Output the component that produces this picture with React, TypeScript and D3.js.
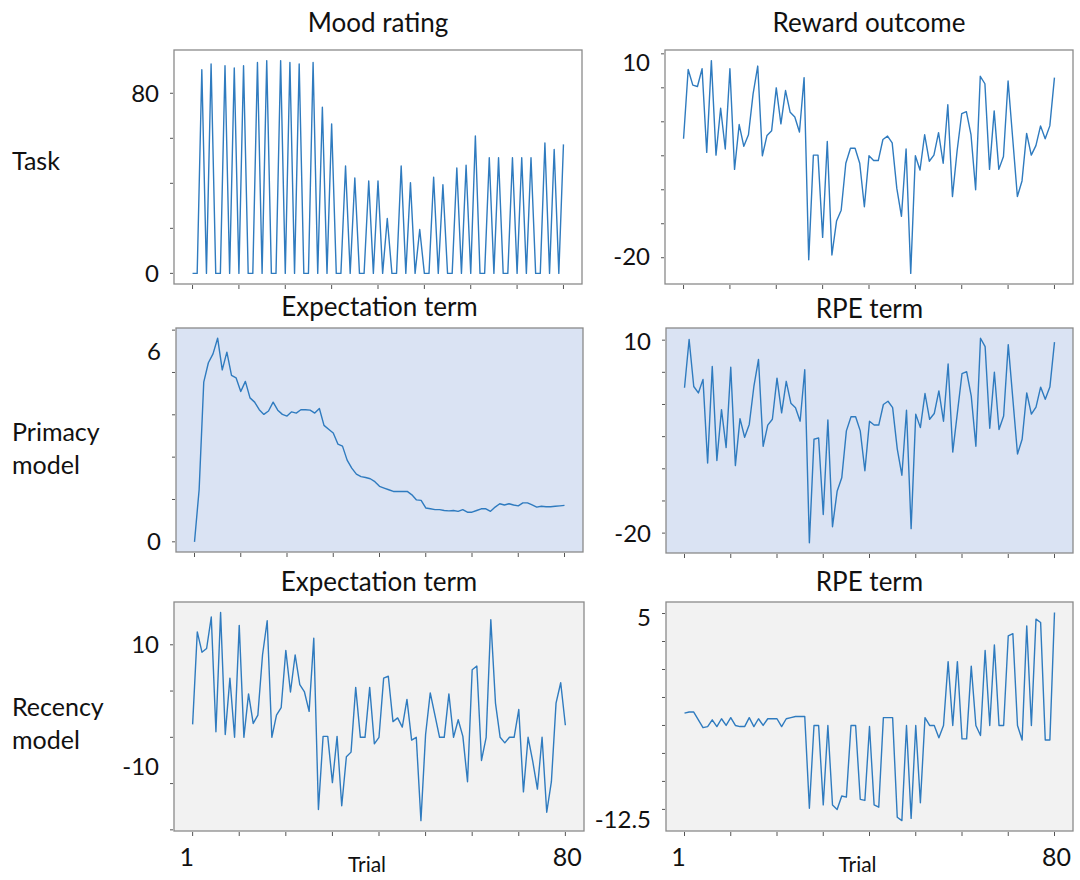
import * as d3 from 'd3';

// trial index 0..80 (axis is labelled 1 .. 80)
const trials = d3.range(81);
const xTicks = [0, 10, 20, 30, 40, 50, 60, 70, 80];

const moodRating = [
  0, 0, 90.5, 0, 93, 0, 0, 92.2, 0, 91.2,
  0, 92.2, 0, 0, 93.7, 0, 94.5, 0, 0, 94.5,
  0, 93.7, 0, 93, 0, 0, 93.7, 0, 73.8, 0,
  66.4, 0, 0, 47.7, 0, 42.4, 0, 0, 41, 0,
  41, 0, 24.4, 0, 0, 47.7, 0, 40.3, 0, 19.5,
  0, 0, 42.7, 0, 39.4, 0, 0, 46.8, 0, 48,
  0, 61, 0, 0, 51.4, 0, 51.4, 0, 0, 51.4,
  0, 51.4, 0, 51.4, 0, 0, 57.9, 0, 55, 0,
  57.3,
];

const rewardOutcome = [
  -2.5, 7.7, 5.4, 5.2, 7.8, -4.5, 9.0, -4.9, 2.0, -4.0,
  7.8, -7.0, -0.4, -3.6, -1.9, 4.1, 8.2, -5.0, -2.0, -1.3,
  5.0, -0.3, 4.6, 1.4, 0.7, -1.5, 6.5, -20.3, -4.9, -4.9,
  -17.0, -2.9, -19.6, -14.6, -13.0, -6.1, -3.9, -3.9, -6.1, -12.5,
  -5.0, -5.7, -5.7, -2.6, -2.1, -3.1, -9.8, -13.9, -4.0, -22.3,
  -5.0, -7.1, -1.9, -5.8, -4.9, -1.6, -6.1, 2.5, -11.0, -4.3,
  1.2, 1.5, -1.9, -10.0, 6.7, 5.6, -7.0, 1.6, -7.0, -5.1,
  6.0, -2.5, -11.0, -8.7, -1.7, -4.9, -3.5, -0.6, -2.5, -0.6,
  6.5,
];

const primacyExpectation = [
  0, 1.23, 3.77, 4.23, 4.44, 4.81, 4.06, 4.48, 3.93, 3.87,
  3.55, 3.79, 3.4, 3.3, 3.12, 3.01, 3.09, 3.3, 3.11, 3.01,
  2.97, 3.07, 3.04, 3.12, 3.12, 3.11, 3.04, 3.15, 2.75, 2.66,
  2.57, 2.31, 2.26, 1.93, 1.74, 1.6, 1.54, 1.52, 1.49, 1.42,
  1.31, 1.27, 1.23, 1.19, 1.19, 1.19, 1.19, 1.11, 0.99, 0.98,
  0.8, 0.78, 0.76, 0.76, 0.74, 0.73, 0.74, 0.72, 0.76, 0.7,
  0.7, 0.74, 0.78, 0.78, 0.72, 0.82, 0.9, 0.87, 0.9, 0.87,
  0.85, 0.92, 0.92, 0.87, 0.82, 0.84, 0.83, 0.83, 0.84, 0.85,
  0.86,
];

const primacyRpe = [
  2.6, 10.1, 2.8, 1.8, 3.9, -9.1, 5.9, -8.7, -0.8, -6.7,
  5.8, -9.5, -2.2, -5.1, -3.1, 2.8, 7.0, -6.5, -3.2, -2.3,
  4.1, -1.3, 3.6, 0.2, -0.5, -2.6, 5.4, -21.5, -5.4, -5.2,
  -17.1, -2.4, -19.0, -13.5, -11.4, -4.1, -1.9, -1.9, -4.1, -10.3,
  -2.6, -3.2, -3.2, 0.0, 0.5, -0.5, -6.9, -11.0, -0.9, -19.3,
  -1.5, -3.6, 1.7, -2.3, -1.4, 2.1, -2.6, 6.3, -7.4, -1.3,
  4.8, 5.1, 1.3, -6.5, 10.3, 9.0, -3.7, 5.0, -3.9, -1.8,
  9.3, 0.8, -7.7, -5.4, 1.8, -1.5, -0.4, 2.7, 0.8, 2.7,
  9.7,
];

const recencyExpectation = [
  1.4, 11.4, 9.2, 9.6, 13.0, 0.6, 13.5, 0.3, 6.4, 0,
  12.1, 0, 4.7, 1.5, 2.4, 8.9, 12.6, 0, 2.4, 3.2,
  9.4, 4.9, 8.9, 5.7, 4.9, 2.8, 10.7, -7.8, 0.1, 0.1,
  -4.9, 0.1, -7.4, -2.1, -1.6, 5.4, 0, 0, 5.4, -0.7,
  0, 6.4, 6.6, 1.7, 2.1, 1.1, 4.1, -0.3, 0, -9.0,
  0.3, 4.8, 2.4, 0, 0, 4.7, 0, 1.9, 0.1, -4.8,
  7.3, 7.7, -2.5, 0, 12.7, 3.7, 0, -0.6, 0, 0,
  3.0, -5.9, 0, -2.6, -5.6, 0, -8.1, -4.8, 3.7, 5.9,
  1.3,
];

const recencyRpe = [
  -3.9, -3.8, -3.8, -4.5, -5.2, -5.1, -4.5, -5.1, -4.4, -5.0,
  -4.3, -5.0, -5.1, -5.1, -4.3, -5.1, -4.4, -5.0, -4.4, -4.4,
  -4.4, -5.1, -4.4, -4.3, -4.2, -4.2, -4.2, -12.4, -5.0, -5.0,
  -12.1, -5.0, -12.1, -12.5, -11.3, -11.4, -5.0, -5.0, -11.6, -11.7,
  -5.1, -12.1, -12.3, -4.3, -4.3, -4.3, -13.2, -13.5, -5.0, -13.3,
  -5.0, -11.9, -4.3, -5.0, -5.0, -6.1, -5.0, 0.7, -5.0, 0.7,
  -6.2, -6.2, 0.3, -5.0, -5.9, 1.7, -5.0, 2.2, -5.0, -5.0,
  3.0, 3.2, -5.0, -6.3, 3.9, -5.0, 4.5, 4.2, -6.3, -6.3,
  5.1,
];

// y tick values per panel, and the two hand placed labels (text, value where drawn)
const moodTicks = [0, 20, 40, 60, 80];
const rewardTicks = [10, 5, 0, -5, -10, -15, -20];
const primExpTicks = [0, 1, 2, 3, 4, 5];
const recExpTicks = [10, 5, 0, -5, -10];
const recRpeTicks = [5, 2.5, 0, -2.5, -5, -7.5, -10, -12.5];

const FONT = 'Lato, "Open Sans", sans-serif';
const LINE = '#2f7bbf';

const panels = [
  { key: 'mood', title: 'Mood rating', values: moodRating, ticks: moodTicks,
    labels: [['80', 80], ['0', 0]], x: 174, y: 50, w: 408, h: 234, bg: '#ffffff', titleY: 32 },
  { key: 'reward', title: 'Reward outcome', values: rewardOutcome, ticks: rewardTicks,
    labels: [['10', 8.7], ['-20', -19.8]], x: 665, y: 50, w: 408, h: 234, bg: '#ffffff', titleY: 32 },
  { key: 'pexp', title: 'Expectation term', values: primacyExpectation, ticks: primExpTicks,
    labels: [['6', 4.5], ['0', 0]], x: 176, y: 328, w: 407, h: 224, bg: '#dae3f3', titleY: 316 },
  { key: 'prpe', title: 'RPE term', values: primacyRpe, ticks: rewardTicks,
    labels: [['10', 9.7], ['-20', -20]], x: 666, y: 328, w: 407, h: 225, bg: '#dae3f3', titleY: 318 },
  { key: 'rexp', title: 'Expectation term', values: recencyExpectation, ticks: recExpTicks,
    labels: [['10', 10], ['-10', -3.2]], x: 174, y: 602, w: 410, h: 229, bg: '#f2f2f2', titleY: 591 },
  { key: 'rrpe', title: 'RPE term', values: recencyRpe, ticks: recRpeTicks,
    labels: [['5', 4.6], ['-12.5', -13.4]], x: 666, y: 602, w: 407, h: 229, bg: '#f2f2f2', titleY: 591 },
];

const rowLabels = [
  { lines: ['Task'], y: 170 },
  { lines: ['Primacy', 'model'], y: 441 },
  { lines: ['Recency', 'model'], y: 716 },
];

const Panel = ({ p }) => {
  const xScale = d3.scaleLinear().domain([-4, 84]).range([p.x, p.x + p.w]);
  const [lo, hi] = d3.extent(p.values);
  const pad = (hi - lo) * 0.05;
  const yScale = d3.scaleLinear().domain([lo - pad, hi + pad]).range([p.y + p.h, p.y]);
  const line = d3
    .line()
    .x((d, i) => xScale(trials[i]))
    .y((d) => yScale(d));
  const bottom = p.y + p.h;

  return (
    <g>
      <rect x={p.x} y={p.y} width={p.w} height={p.h} fill={p.bg} stroke='#8a8a8a' strokeWidth={1.3} />
      <path d={line(p.values)} fill='none' stroke={LINE} strokeWidth={1.4} strokeLinejoin='round' />
      {xTicks.map((t) => (
        <line key={'x' + t} x1={xScale(t)} x2={xScale(t)} y1={bottom + 1} y2={bottom + 5} stroke='#555' strokeWidth={1} />
      ))}
      {p.ticks.map((t) => (
        <line key={'y' + t} x1={p.x - 4} x2={p.x - 1} y1={yScale(t)} y2={yScale(t)} stroke='#555' strokeWidth={1} />
      ))}
      {p.labels.map(([txt, v]) => (
        <text key={txt} x={p.x - 15} y={yScale(v)} dy='0.35em' textAnchor='end' fontSize={24} fontFamily={FONT} fill='#111'>
          {txt}
        </text>
      ))}
      <text x={p.x + p.w / 2} y={p.titleY} textAnchor='middle' fontSize={26} fontFamily={FONT} fill='#111'>
        {p.title}
      </text>
    </g>
  );
};

const App = () => {
  const bottomRow = panels.filter((p) => p.key === 'rexp' || p.key === 'rrpe');
  return (
    <svg width={1080} height={880} style={{ position: 'absolute', left: 0, top: 0, display: 'block', background: '#fff' }}>
      {panels.map((p) => (
        <Panel key={p.key} p={p} />
      ))}
      {rowLabels.map((r) =>
        r.lines.map((l, i) => (
          <text key={l + r.y} x={12} y={r.y + i * 33} fontSize={25} fontFamily={FONT} fill='#111'>
            {l}
          </text>
        ))
      )}
      {bottomRow.map((p) => {
        const xScale = d3.scaleLinear().domain([-4, 84]).range([p.x, p.x + p.w]);
        return (
          <g key={'b' + p.key}>
            <text x={xScale(0) - 6} y={866} textAnchor='middle' fontSize={25} fontFamily={FONT} fill='#111'>1</text>
            <text x={xScale(80) + 2} y={866} textAnchor='middle' fontSize={25} fontFamily={FONT} fill='#111'>80</text>
            <text x={xScale(40) - 12} y={872} textAnchor='middle' fontSize={21} fontFamily={FONT} fill='#111'>Trial</text>
          </g>
        );
      })}
    </svg>
  );
};

export default App;
